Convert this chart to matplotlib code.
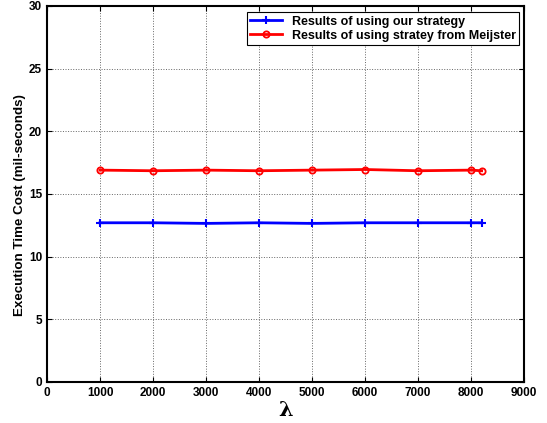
import matplotlib
matplotlib.use('Agg')
import matplotlib.pyplot as plt

lam = [1000, 2000, 3000, 4000, 5000, 6000, 7000, 8000, 8200]
ours = [12.7, 12.7, 12.65, 12.7, 12.65, 12.7, 12.7, 12.7, 12.7]
meijster = [16.9, 16.85, 16.9, 16.85, 16.9, 16.95, 16.85, 16.9, 16.85]

plt.rcParams['font.family'] = ['Liberation Sans', 'DejaVu Sans']

fig = plt.figure(figsize=(5.47, 4.23), dpi=100)
ax = fig.add_axes([0.086, 0.097, 0.872, 0.889])

ax.plot(lam, ours, 'b-', marker='+', markersize=6, markeredgewidth=1.5,
        linewidth=2, label='Results of using our strategy')
ax.plot(lam, meijster, 'r-', marker='o', markersize=4.5, markerfacecolor='none',
        markeredgewidth=1.3, linewidth=2, label='Results of using stratey from Meijster')

ax.set_xlim(0, 9000)
ax.set_ylim(0, 30)
ax.set_xticks(range(0, 9001, 1000))
ax.set_yticks(range(0, 31, 5))
ax.grid(True, linestyle=':', color='#666666', linewidth=0.7)
ax.tick_params(direction='in', labelsize=8.5, top=True, right=True)
for lbl in ax.get_xticklabels() + ax.get_yticklabels():
    lbl.set_fontweight('bold')
for s in ax.spines.values():
    s.set_linewidth(1.5)

ax.set_xlabel('λ', fontsize=15, fontfamily='DejaVu Serif', fontweight='bold', labelpad=1)
ax.set_ylabel('Execution Time Cost (mil-seconds)', fontsize=9.6, fontweight='bold')
ax.yaxis.set_label_coords(-0.045, 0.47)

leg = ax.legend(loc='upper right', bbox_to_anchor=(0.99, 0.984), borderaxespad=0,
                prop={'weight': 'bold', 'size': 9},
                fancybox=False, edgecolor='black', framealpha=1,
                handlelength=2.5, borderpad=0.3, labelspacing=0.15)
leg.get_frame().set_linewidth(0.8)

fig.savefig('out.png', dpi=100)
